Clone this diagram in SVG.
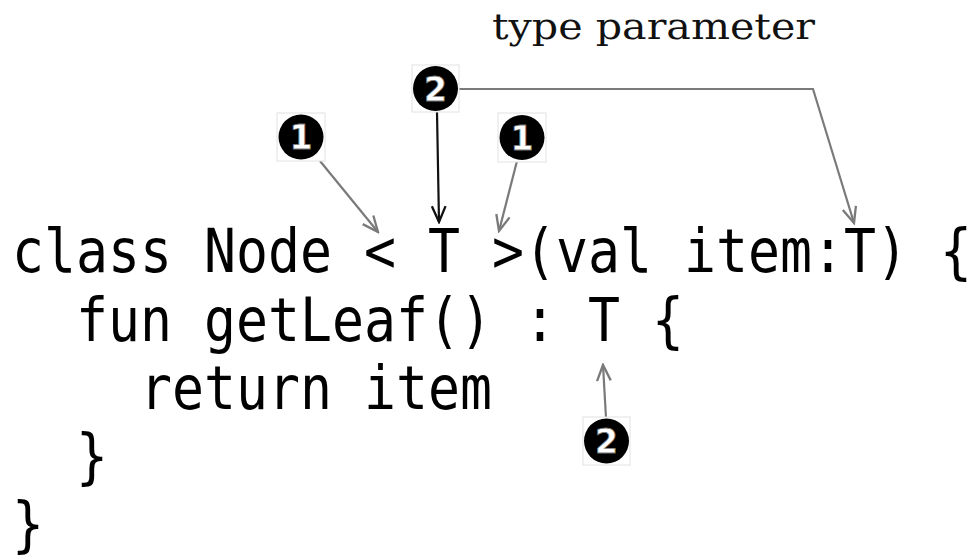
<svg xmlns="http://www.w3.org/2000/svg" width="973" height="558" viewBox="0 0 973 558">
  <style>
    .code { font-family: "DejaVu Sans Mono", "Liberation Mono", monospace; font-size: 60px; fill: #000; }
    .label { font-family: "DejaVu Serif", "Liberation Serif", serif; font-size: 35px; fill: #111; }
    .badge circle { fill: #000; }
    .badge rect { fill: #fff; stroke: #e2e2e2; stroke-width: 1; }
    .badge text { font-family: "DejaVu Sans", "Liberation Sans", sans-serif; font-weight: bold; font-size: 33px; fill: #fff; stroke: #777; stroke-width: 0.8; text-anchor: middle; }
    .gray { stroke: #7a7a7a; stroke-width: 2.2; fill: none; }
    .dark { stroke: #111; stroke-width: 2.2; fill: none; }
  </style>
  <defs>
    <marker id="ahGray" markerUnits="userSpaceOnUse" markerWidth="20" markerHeight="20" viewBox="-17 -9 19 18" refX="0" refY="0" orient="auto">
      <path d="M-15,-6.5 L0,0 L-15,6.5" fill="none" stroke="#7a7a7a" stroke-width="2.2"/>
    </marker>
    <marker id="ahDark" markerUnits="userSpaceOnUse" markerWidth="20" markerHeight="20" viewBox="-17 -9 19 18" refX="0" refY="0" orient="auto">
      <path d="M-15,-6.5 L0,0 L-15,6.5" fill="none" stroke="#111" stroke-width="2.2"/>
    </marker>
  </defs>
  <rect width="973" height="558" fill="#fff"/>

  <g id="label-type-parameter">
    <text class="label" x="492" y="39" textLength="323" lengthAdjust="spacingAndGlyphs">type parameter</text>
  </g>

  <g id="code" transform="scale(0.886 1)">
    <text class="code" x="13.5" y="272">class Node &lt; T &gt;(val item:T) {</text>
    <text class="code" x="85.8" y="341">fun getLeaf() : T {</text>
    <text class="code" x="158" y="409">return item</text>
    <text class="code" x="85.8" y="477">}</text>
    <text class="code" x="13.5" y="545">}</text>
  </g>

  <g id="connectors">
    <line class="gray" x1="320" y1="161" x2="378" y2="232" marker-end="url(#ahGray)"/>
    <line class="dark" x1="437" y1="112" x2="439" y2="222" marker-end="url(#ahDark)"/>
    <line class="gray" x1="517" y1="161" x2="499" y2="231" marker-end="url(#ahGray)"/>
    <polyline class="gray" points="459,89 813,89 854,223" marker-end="url(#ahGray)"/>
    <line class="gray" x1="606" y1="418" x2="603" y2="365" marker-end="url(#ahGray)"/>
  </g>

  <g id="badge-2-top" class="badge">
    <rect x="412" y="65" width="47" height="47"/>
    <circle cx="435.5" cy="88.5" r="22.5"/>
    <text x="435.5" y="100.5">2</text>
  </g>
  <g id="badge-1-left" class="badge">
    <rect x="277" y="113" width="48" height="48"/>
    <circle cx="301" cy="137" r="22.5"/>
    <text x="301" y="149">1</text>
  </g>
  <g id="badge-1-right" class="badge">
    <rect x="498" y="113" width="48" height="49"/>
    <circle cx="522" cy="137.5" r="22.5"/>
    <text x="522" y="149.5">1</text>
  </g>
  <g id="badge-2-bottom" class="badge">
    <rect x="583" y="417" width="47" height="48"/>
    <circle cx="606.5" cy="441" r="22.5"/>
    <text x="606.5" y="453">2</text>
  </g>
</svg>
